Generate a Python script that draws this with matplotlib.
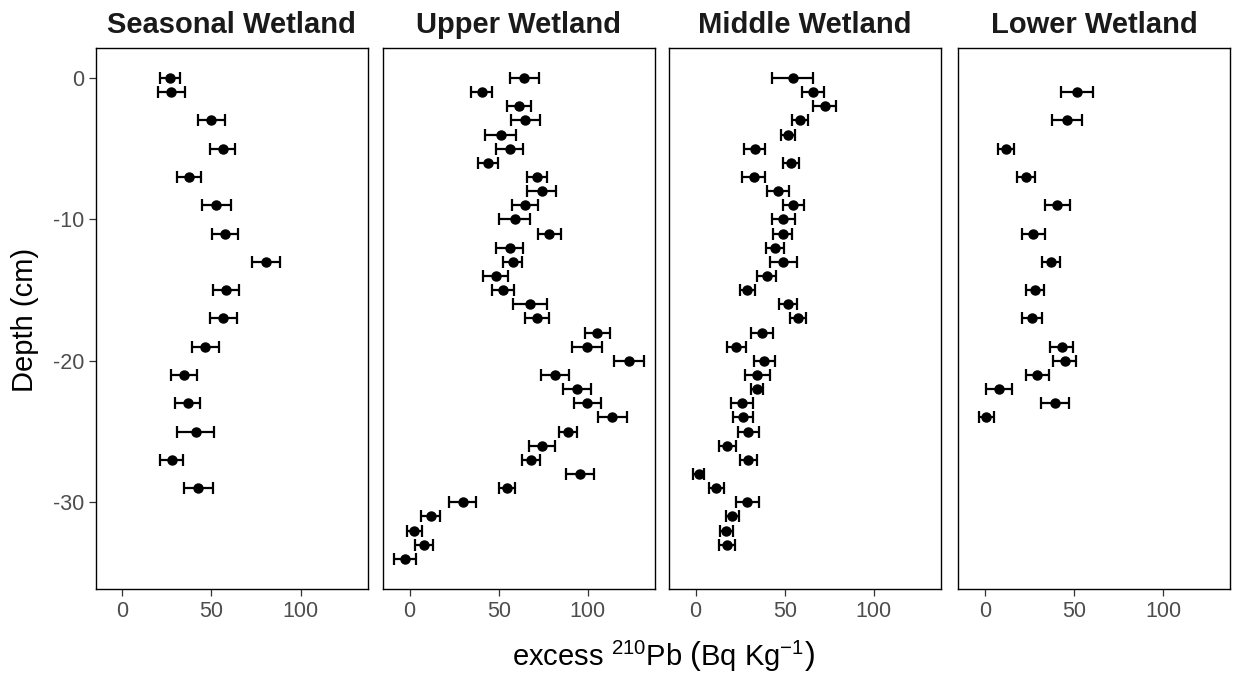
import matplotlib
matplotlib.use("Agg")
import matplotlib.pyplot as plt

plt.rcParams['font.family'] = ['Liberation Sans', 'DejaVu Sans']
plt.rcParams['mathtext.fontset'] = 'custom'
plt.rcParams['mathtext.rm'] = 'Liberation Sans'
plt.rcParams['mathtext.it'] = 'Liberation Sans:italic'
plt.rcParams['axes.unicode_minus'] = False

titles = ["Seasonal Wetland", "Upper Wetland", "Middle Wetland", "Lower Wetland"]

seasonal_depth = [0, -1, -3, -5, -7, -9, -11, -13, -15, -17, -19, -21, -23, -25, -27, -29]
seasonal_pb = [26.5, 27.4, 50.0, 56.2, 37.3, 52.8, 57.8, 80.4, 58.2, 56.7, 46.6, 34.5, 36.6, 41.1, 27.6, 42.7]
seasonal_err = [5.6, 7.6, 7.4, 7.1, 6.7, 7.9, 7.3, 7.9, 7.1, 7.5, 7.5, 7.3, 6.8, 10.2, 6.5, 8.0]

upper_depth = [0, -1, -2, -3, -4, -5, -6, -7, -8, -9, -10, -11, -12, -13, -14, -15, -16, -17,
               -18, -19, -20, -21, -22, -23, -24, -25, -26, -27, -28, -29, -30, -31, -32, -33, -34]
upper_pb = [64.3, 40.4, 61.5, 64.9, 51.2, 56.1, 43.9, 71.6, 74.0, 64.9, 58.9, 78.3, 56.1, 57.9, 48.2,
            52.3, 67.7, 71.2, 105.2, 99.4, 123.2, 81.5, 93.8, 99.6, 113.6, 88.6, 74.2, 68.0, 95.5,
            54.8, 29.7, 11.8, 2.6, 8.1, -2.4]
upper_err = [8.2, 6.0, 6.8, 8.2, 8.7, 7.6, 5.6, 5.5, 8.2, 7.3, 8.7, 6.4, 7.7, 5.4, 6.9, 6.2, 9.5, 6.7,
             7.0, 8.4, 8.4, 8.0, 8.0, 7.6, 8.2, 5.1, 7.1, 5.1, 7.7, 4.4, 7.4, 5.4, 4.3, 5.0, 6.1]

middle_depth = [0, -1, -2, -3, -4, -5, -6, -7, -8, -9, -10, -11, -12, -13, -14, -15, -16, -17,
                -18, -19, -20, -21, -22, -23, -24, -25, -26, -27, -28, -29, -30, -31, -32, -33]
middle_pb = [54.4, 65.8, 72.3, 58.7, 52.0, 33.2, 53.5, 32.6, 46.2, 54.7, 49.2, 48.8, 44.5, 49.2, 39.9,
             29.1, 52.0, 57.4, 37.2, 22.9, 38.4, 34.6, 34.6, 26.1, 26.5, 29.6, 17.7, 29.6, 1.9, 11.6,
             29.0, 20.5, 17.3, 17.7]
middle_err = [11.6, 6.3, 6.3, 4.6, 4.0, 6.0, 4.7, 6.3, 6.0, 5.9, 6.3, 5.3, 5.2, 7.4, 5.4, 4.3, 5.0, 4.5,
              6.0, 5.1, 5.9, 7.0, 3.4, 6.2, 5.6, 5.7, 4.8, 4.9, 3.1, 4.2, 6.5, 3.7, 3.8, 4.5]

lower_depth = [-1, -3, -5, -7, -9, -11, -13, -15, -17, -19, -20, -21, -22, -23, -24]
lower_pb = [51.4, 46.0, 11.6, 23.0, 40.7, 27.2, 37.0, 28.2, 26.4, 43.0, 44.7, 29.3, 8.0, 39.4, 0.7]
lower_err = [9.0, 8.5, 4.5, 5.2, 7.1, 6.6, 4.9, 4.9, 5.7, 6.3, 6.5, 6.5, 7.3, 7.7, 4.2]

panels = [(seasonal_depth, seasonal_pb, seasonal_err),
          (upper_depth, upper_pb, upper_err),
          (middle_depth, middle_pb, middle_err),
          (lower_depth, lower_pb, lower_err)]

W, H = 1235, 687
fig = plt.figure(figsize=(W / 100, H / 100), dpi=100)

lefts = [95.7, 383, 669, 958.3]
pw = 272
top, bottom = 48, 589.3

for i, (depth, pb, err) in enumerate(panels):
    ax = fig.add_axes([lefts[i] / W, (H - bottom) / H, pw / W, (bottom - top) / H])
    ax.errorbar(pb, depth, xerr=err, fmt='o', color='black', ms=6.5,
                elinewidth=1.6, capsize=4.2, capthick=1.6)
    ax.set_xlim(-14.9, 137.6)
    ax.set_ylim(-36.15, 2.12)
    ax.set_xticks([0, 50, 100])
    ax.set_yticks([0, -10, -20, -30])
    ax.tick_params(length=5, width=0.9, color='#333333', labelcolor='#4d4d4d', labelsize=15.5)
    if i > 0:
        ax.tick_params(axis='y', left=False, labelleft=False)
    for s in ax.spines.values():
        s.set_linewidth(1.0)
        s.set_color('black')
    ax.set_title(titles[i], fontsize=21, fontweight='bold', color='#1a1a1a', pad=11)

fig.text(25 / W, 1 - 320 / H, "Depth (cm)", rotation=90, ha='center', va='center',
         fontsize=21, color='black')
fig.text(663 / W, 1 - 656 / H, r"excess $^{210}$Pb $\left(\mathrm{Bq\ Kg^{-1}}\right)$",
         ha='center', va='center', fontsize=21, color='black')

fig.savefig("out.png", dpi=100)
